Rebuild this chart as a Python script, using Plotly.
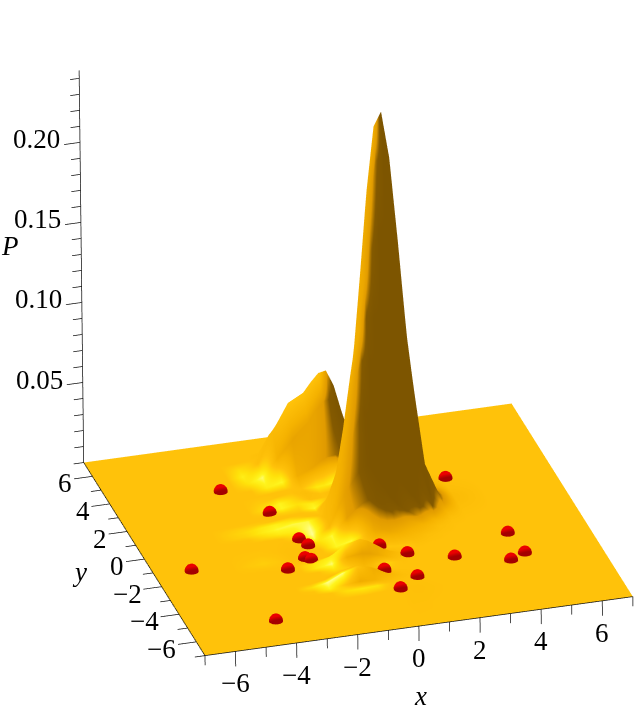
import numpy as np
import plotly.graph_objects as go

x_grid=[-7,-4.5,-3.5,-3,-2.5,-2,-1.5,-1,-.5,-.25,0,.25,.5,.75,1,1.25,1.5,1.75,2,2.5,3,3.5,4.5,7]
y_grid=[-7,-5.5,-4.5,-4,-3.75,-3.5,-3.25,-3,-2.5,-2.25,-2,-1.75,-1.5,-1,-.5,-.25,0,.25,.5,.75,1,1.25,1.5,1.75,2,2.5,3,3.5,4,4.5,5,5.5,6,7]
# P, in units of 1e-4; one row per y_grid value
p_rows=[
[0,0,0,0,0,0,0,0,0,0,0,0,0,0,0,0,0,0,0,0,0,0,0,0],
[0,0,0,0,0,0,0,1,3,4,5,4,3,2,1,1,0,0,0,0,0,0,0,0],
[0,0,0,0,0,0,2,5,12,14,15,14,11,7,4,2,1,0,0,0,0,0,0,0],
[0,0,0,0,0,0,0,3,7,9,9,8,6,4,2,1,0,0,0,0,0,0,0,0],
[0,0,0,0,0,6,17,25,21,16,11,8,5,3,1,0,0,0,0,0,0,0,0,0],
[0,0,0,0,4,24,69,98,71,47,27,14,6,2,1,0,0,0,0,0,0,0,0,0],
[0,0,0,0,4,21,59,84,60,39,22,10,5,2,0,0,0,0,0,0,0,0,0,0],
[0,0,0,0,0,4,11,15,11,7,4,2,1,0,0,0,0,0,0,0,0,0,0,0],
[0,0,0,0,0,0,2,5,6,5,3,2,1,0,0,0,0,0,0,0,0,0,0,0],
[0,0,0,0,0,4,19,48,59,50,36,22,11,5,2,0,0,0,0,0,0,0,0,0],
[0,0,2,3,3,10,42,104,128,110,79,48,24,10,4,1,0,0,0,0,0,0,0,0],
[0,0,4,7,4,5,19,48,59,50,36,22,11,5,2,0,0,0,0,0,0,0,0,0],
[0,0,7,12,7,2,2,5,8,9,9,9,8,6,4,3,2,0,0,0,0,0,0,0],
[0,0,12,20,12,3,1,5,30,50,70,80,75,60,45,30,20,10,5,0,0,0,0,0],
[0,0,7,12,7,2,2,32,130,170,205,225,205,165,120,85,60,40,22,4,1,0,0,0],
[0,0,4,8,5,2,3,69,256,322,388,419,377,289,205,145,104,72,45,11,2,0,0,0],
[0,0,2,6,6,7,10,88,367,515,659,731,681,555,426,328,251,178,113,29,4,0,0,0],
[0,0,3,9,12,21,26,80,397,643,888,1028,1011,895,764,646,521,380,242,61,8,1,0,0],
[0,0,4,16,22,42,47,66,372,663,971,1191,1270,1258,1203,1103,928,688,440,112,15,1,0,0],
[0,0,6,22,30,52,56,53,303,573,892,1185,1477,1670,1770,1725,1490,1115,715,174,23,2,0,0],
[0,0,6,24,32,43,45,40,215,427,722,1115,1527,1920,2190,2220,1950,1470,945,229,31,2,0,0],
[0,0,5,19,26,31,34,31,138,294,552,967,1469,1995,2385,2470,2175,1645,1060,257,34,2,0,0],
[0,0,3,11,19,28,35,30,89,200,413,798,1295,1830,2225,2325,2070,1565,1010,244,33,2,0,0],
[0,0,1,6,16,34,46,38,66,140,299,605,1015,1455,1790,1875,1670,1265,815,198,26,2,0,0],
[0,0,1,4,16,41,57,43,45,90,196,405,690,995,1230,1290,1150,870,560,136,18,1,0,0],
[0,0,0,2,13,37,53,38,22,30,59,113,190,275,339,356,317,241,155,40,5,0,0,0],
[0,0,0,1,6,18,26,22,21,25,32,39,46,53,57,56,49,37,24,6,1,0,0,0],
[0,0,0,0,2,10,34,60,99,132,153,160,135,92,52,21,10,5,2,0,0,0,0,0],
[0,0,0,0,3,32,140,240,330,400,452,465,385,260,140,62,18,5,1,0,0,0,0,0],
[0,0,0,0,6,80,270,430,480,540,590,600,500,330,180,80,28,6,1,0,0,0,0,0],
[0,0,0,0,5,46,200,300,300,316,335,340,280,190,100,45,13,4,1,0,0,0,0,0],
[0,0,0,0,1,13,47,73,74,79,83,84,70,39,21,9,3,1,0,0,0,0,0,0],
[0,0,0,0,0,1,5,7,8,8,9,8,7,4,2,1,0,0,0,0,0,0,0,0],
[0,0,0,0,0,0,0,0,0,0,0,0,0,0,0,0,0,0,0,0,0,0,0,0],
]
z_table=np.array(p_rows)/1e4

pts_x=[-3.43,-2.42,3.59,-5.81,-4.21,-1.99,-1.83,-2.17,-2.02,-2.89,.28,1.01,2.38,4.43,4.57,4.02,-.06,.88,.11]
pts_y=[3.78,1.67,2.59,-1.26,-5.36,-.19,-.67,-1.51,-1.69,-2.08,-1.46,-2.11,-2.74,-1.64,-3.12,-3.46,-3.23,-3.73,-4.51]
x_ticks=list(range(-7,8)); y_ticks=list(range(-7,8)); z_ticks=[round(.01*i,2) for i in range(1,25)]
x_labels=[-6,-4,-2,0,2,4,6]; y_labels=x_labels; z_labels=[.05,.10,.15,.20]
ZTOP=.245

# shading of the surface: the tone comes from the slope of the table above
xg=np.array(x_grid,float); yg=np.array(y_grid,float)
dzdy,dzdx=np.gradient(z_table,yg,xg)
sx=-dzdx*14/.2475; sy=-dzdy*14/.2475
nrm=np.sqrt(sx**2+sy**2+1)
L=np.array([-.42,.13,.9]); L=L/np.linalg.norm(L)
H=np.array([-.374,-.355,.856])
lam=np.clip((sx*L[0]+sy*L[1]+L[2])/nrm/L[2],0,1)
nh=(sx*H[0]+sy*H[1]+H[2])/nrm
spec=np.clip((nh-.88)/.1,0,1)
tone=.6*lam+.4*spec
ramp=[[0,'rgb(125,85,0)'],[.09,'rgb(132,90,0)'],[.2,'rgb(225,155,0)'],[.4,'rgb(245,178,0)'],[.6,'rgb(255,194,10)'],[.75,'rgb(255,225,10)'],[.87,'rgb(255,245,30)'],[1,'rgb(255,255,150)']]

fig=go.Figure()
fig.add_trace(go.Surface(x=x_grid,y=y_grid,z=z_table,surfacecolor=tone,cmin=0,cmax=1,colorscale=ramp,showscale=False,hoverinfo='skip',
  lighting=dict(ambient=1,diffuse=0,specular=0,roughness=1,fresnel=0)))
# dome glyphs, seated on the surface at each point
def height(px,py):
    i=int(np.clip(np.searchsorted(xg,px)-1,0,len(xg)-2)); j=int(np.clip(np.searchsorted(yg,py)-1,0,len(yg)-2))
    u=(px-xg[i])/(xg[i+1]-xg[i]); w=(py-yg[j])/(yg[j+1]-yg[j])
    return (1-u)*(1-w)*z_table[j,i]+u*(1-w)*z_table[j,i+1]+(1-u)*w*z_table[j+1,i]+u*w*z_table[j+1,i+1]
th=np.linspace(0,2*np.pi,17)[:-1]; ph=np.linspace(-.5,np.pi/2,7)
vx,vy,vz,I,J,K=[],[],[],[],[],[]
for px,py in zip(pts_x,pts_y):
    b=len(vx); z0=height(px,py)
    for p in ph:
        for t in th:
            vx.append(px+.225*np.cos(p)*np.cos(t)); vy.append(py+.225*np.cos(p)*np.sin(t)); vz.append(z0+.0045*np.sin(p))
    n=len(th)
    for a in range(len(ph)-1):
        for c in range(n):
            q=[b+a*n+c,b+a*n+(c+1)%n,b+(a+1)*n+(c+1)%n,b+(a+1)*n+c]
            I+= [q[0],q[0]];J+=[q[1],q[2]];K+=[q[2],q[3]]
fig.add_trace(go.Mesh3d(x=vx,y=vy,z=vz,i=I,j=J,k=K,color='rgb(235,0,0)',hoverinfo='skip',flatshading=False,
  lighting=dict(ambient=.7,diffuse=.6,specular=.15,roughness=.4),lightposition=dict(x=-2e4,y=1e5,z=0)))
# axes
def seg(lx,ly,lz,ax,ay,az,bx,by,bz):
    lx+= [ax,bx,None]; ly+=[ay,by,None]; lz+=[az,bz,None]
lx,ly,lz=[],[],[]
seg(lx,ly,lz,-7,-7,0,7,-7,0); seg(lx,ly,lz,-7,-7,0,-7,7,0); seg(lx,ly,lz,-7,7,0,-7,7,ZTOP)
for t in x_ticks: seg(lx,ly,lz,t,-7,0,t,-7,-(.0093 if t%2==0 else .006))
for t in y_ticks: seg(lx,ly,lz,-7,t,0,-7-(.6 if t%2==0 else .33),t,0)
for t in z_ticks: seg(lx,ly,lz,-7,7,t,-7-(.52 if round(t*100)%5==0 else .3),7,t)
fig.add_trace(go.Scatter3d(x=lx,y=ly,z=lz,mode='lines',line=dict(color='#111',width=1.5),hoverinfo='skip',showlegend=False))
font=dict(family='Liberation Serif',size=27,color='black')
ifont=dict(family='Liberation Serif',size=27,color='black')
def lab(t): return str(t).replace('-','\u2212')
ann=[]
for t in x_labels: ann.append(dict(x=t,y=-7,z=0,text=lab(t),showarrow=False,font=font,yshift=-32))
for t in y_labels: ann.append(dict(x=-7,y=t,z=0,text=lab(t),showarrow=False,font=font,xanchor='right',xshift=-18,yshift=-7))
for t in z_labels: ann.append(dict(x=-7,y=7,z=t,text='%.2f'%t,showarrow=False,font=font,xanchor='right',xshift=-18,yshift=3))
ann.append(dict(x=0,y=-7,z=0,text='<i>x</i>',showarrow=False,font=ifont,xshift=2,yshift=-70))
ann.append(dict(x=-7,y=0,z=0,text='<i>y</i>',showarrow=False,font=ifont,xshift=-65,yshift=-13))
ann.append(dict(x=-7,y=7,z=.135,text='<i>P</i>',showarrow=False,font=ifont,xshift=-71))
n=np.array([-.2384,-.8582,.4537]); c=np.array([-.1129,.0026,-.0544]); d=1.5
eye=c+d*n
k=1.258
off=dict(visible=False,showspikes=False)
fig.update_layout(width=635,height=707,margin=dict(l=0,r=0,t=0,b=0),paper_bgcolor='white',showlegend=False,
 scene=dict(domain=dict(x=[0,1],y=[0,1]),xaxis=dict(range=[-9,9],**off),yaxis=dict(range=[-9,9],**off),zaxis=dict(range=[-.04,.2875],**off),
 aspectmode='manual',aspectratio=dict(x=k*18/14,y=k*18/14,z=k*.3275/.2475),annotations=ann,
 camera=dict(projection=dict(type='orthographic'),up=dict(x=.1327,y=.4342,z=.8909),center=dict(x=c[0],y=c[1],z=c[2]),eye=dict(x=eye[0],y=eye[1],z=eye[2]))))
fig.write_html('out.html',config=dict(displayModeBar=False),post_script="document.body.style.margin='0';document.body.style.overflow='hidden';")
